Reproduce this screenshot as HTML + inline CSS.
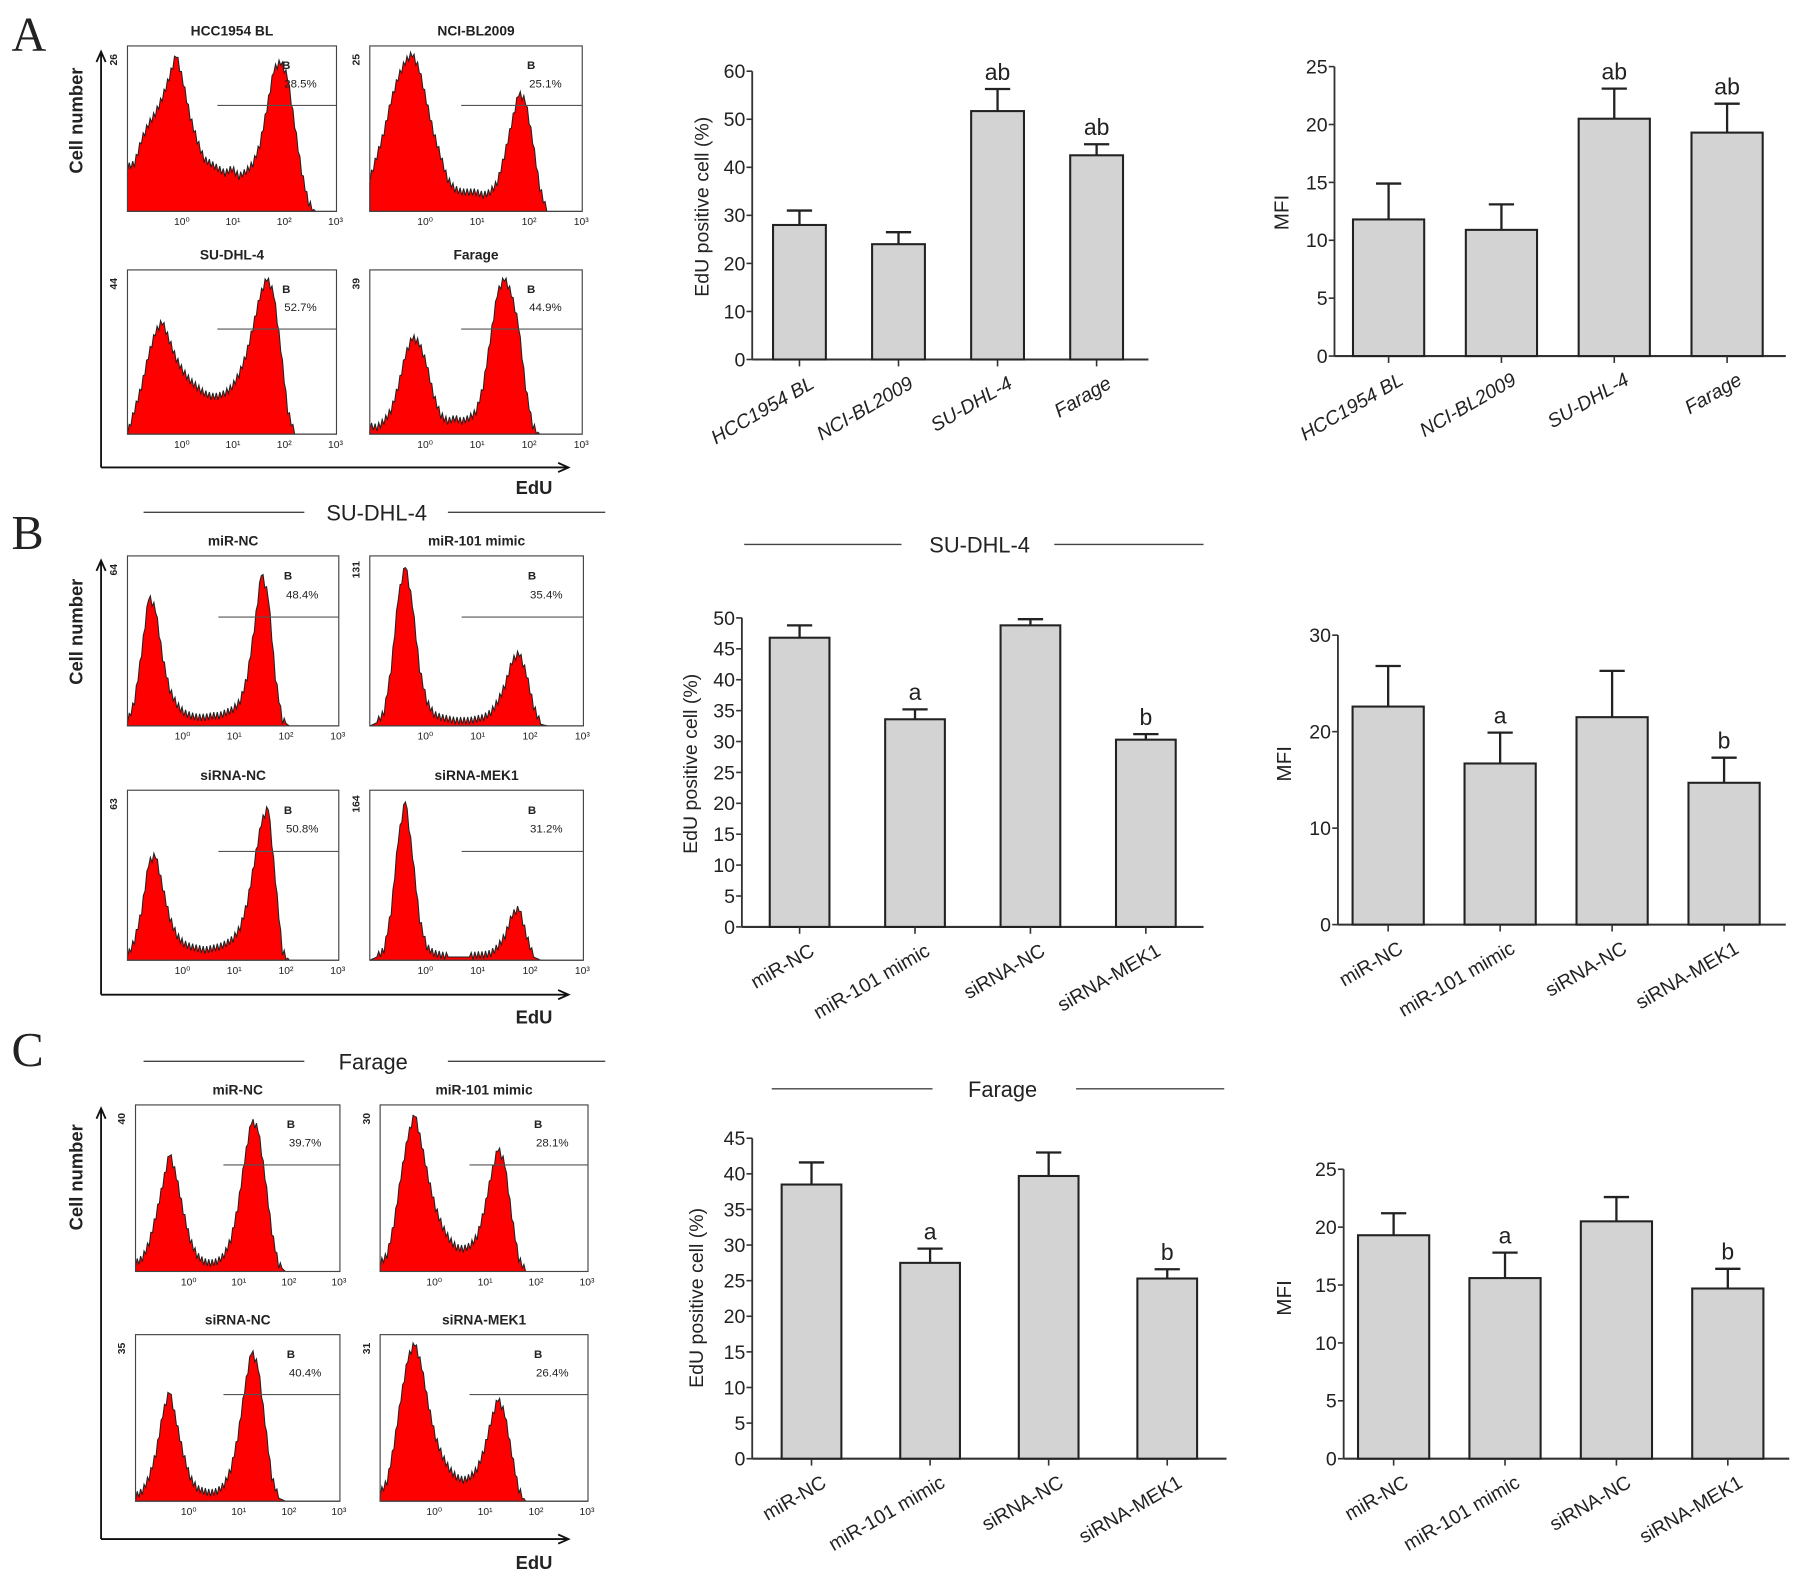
<!DOCTYPE html>
<html><head><meta charset="utf-8"><style>
html,body{margin:0;padding:0;background:#fff}
svg{display:block}
text{font-family:"Liberation Sans",Arial,sans-serif;fill:#222}
</style></head><body>
<svg id="fig" width="1795" height="1577" viewBox="0 0 1563 1373" preserveAspectRatio="none" xmlns="http://www.w3.org/2000/svg">
<rect width="1563" height="1373" fill="#fff"/>
<g id="root"></g>
</svg>
<script>
// ---------- bar chart data ----------
const catsA = ["HCC1954 BL","NCI-BL2009","SU-DHL-4","Farage"];
const catsBC = ["miR-NC","miR-101 mimic","siRNA-NC","siRNA-MEK1"];
const a1Values = [28, 24, 51.7, 42.5];
const a1Errors = [3, 2.5, 4.6, 2.3];
const a1Letters = ["", "", "ab", "ab"];
const a2Values = [11.8, 10.9, 20.5, 19.3];
const a2Errors = [3.1, 2.2, 2.6, 2.5];
const a2Letters = ["", "", "ab", "ab"];
const b1Values = [46.8, 33.6, 48.8, 30.3];
const b1Errors = [2.0, 1.6, 1.0, 0.9];
const b1Letters = ["", "a", "", "b"];
const b2Values = [22.6, 16.7, 21.5, 14.7];
const b2Errors = [4.2, 3.2, 4.8, 2.6];
const b2Letters = ["", "a", "", "b"];
const c1Values = [38.5, 27.5, 39.7, 25.3];
const c1Errors = [3.1, 2.0, 3.3, 1.3];
const c1Letters = ["", "a", "", "b"];
const c2Values = [19.3, 15.6, 20.5, 14.7];
const c2Errors = [1.9, 2.2, 2.1, 1.7];
const c2Letters = ["", "a", "", "b"];
const ticks60 = [0,10,20,30,40,50,60];
const ticks25 = [0,5,10,15,20,25];
const ticks50 = [0,5,10,15,20,25,30,35,40,45,50];
const ticks30 = [0,10,20,30];
const ticks45 = [0,5,10,15,20,25,30,35,40,45];

// ---------- histogram data (relative counts across EdU bins) ----------
const hHCC = [0.28,0.3,0.45,0.55,0.62,0.72,0.85,1.0,0.82,0.6,0.45,0.33,0.3,0.27,0.24,0.27,0.22,0.25,0.3,0.42,0.65,0.9,0.95,0.85,0.55,0.25,0.05,0,0,0];
const hNCI = [0.2,0.35,0.5,0.7,0.85,0.95,1.0,0.9,0.7,0.5,0.35,0.2,0.14,0.12,0.12,0.12,0.1,0.12,0.18,0.35,0.55,0.75,0.7,0.45,0.15,0,0,0,0,0];
const hSU = [0.0,0.15,0.3,0.5,0.65,0.72,0.6,0.48,0.4,0.34,0.3,0.26,0.24,0.24,0.26,0.3,0.38,0.5,0.68,0.88,1.0,0.9,0.55,0.15,0,0,0,0,0,0];
const hFar = [0.05,0.04,0.08,0.15,0.3,0.5,0.62,0.58,0.45,0.25,0.12,0.08,0.1,0.08,0.1,0.14,0.3,0.6,0.9,1.0,0.9,0.7,0.3,0.05,0,0,0,0,0,0];
const hBmiR = [0.02,0.15,0.45,0.8,0.72,0.42,0.22,0.13,0.08,0.06,0.05,0.05,0.06,0.06,0.08,0.1,0.15,0.3,0.6,0.95,0.8,0.3,0.03,0,0,0,0,0,0,0];
const hBmim = [0.0,0.02,0.08,0.35,0.8,1.0,0.75,0.35,0.15,0.07,0.05,0.04,0.03,0.03,0.03,0.04,0.05,0.08,0.15,0.25,0.4,0.45,0.32,0.12,0.01,0,0,0,0,0];
const hBsiNC = [0.02,0.12,0.3,0.6,0.65,0.45,0.26,0.15,0.1,0.08,0.07,0.06,0.07,0.08,0.1,0.13,0.2,0.35,0.6,0.85,0.95,0.5,0.05,0,0,0,0,0,0,0];
const hBsiM = [0.0,0.02,0.06,0.3,0.75,1.0,0.65,0.25,0.08,0.04,0.03,0.02,0.02,0.02,0.02,0.03,0.03,0.04,0.08,0.15,0.28,0.32,0.15,0.02,0,0,0,0,0,0];
const hCmiR = [0.05,0.08,0.18,0.35,0.55,0.75,0.6,0.38,0.2,0.1,0.06,0.05,0.06,0.1,0.2,0.4,0.7,0.95,0.9,0.6,0.25,0.04,0,0,0,0,0,0,0,0];
const hCmim = [0.05,0.1,0.3,0.6,0.85,1.0,0.8,0.58,0.4,0.28,0.2,0.15,0.14,0.16,0.22,0.38,0.6,0.78,0.68,0.35,0.08,0,0,0,0,0,0,0,0,0];
const hCsiNC = [0.03,0.06,0.15,0.3,0.55,0.7,0.5,0.3,0.15,0.08,0.06,0.05,0.06,0.1,0.2,0.4,0.7,0.95,0.85,0.5,0.15,0.02,0,0,0,0,0,0,0,0];
const hCsiM = [0.05,0.12,0.35,0.65,0.9,1.0,0.85,0.6,0.4,0.28,0.2,0.15,0.13,0.15,0.2,0.32,0.5,0.65,0.55,0.3,0.07,0,0,0,0,0,0,0,0,0];

const NS="http://www.w3.org/2000/svg";
const root=document.getElementById('root');
function el(tag,attrs,parent,txt){const e=document.createElementNS(NS,tag);for(const k in attrs)e.setAttribute(k,attrs[k]);if(txt!==undefined)e.textContent=txt;(parent||root).appendChild(e);return e;}

function barChart(o){
  const g=el('g',{});
  
  
  const yMax=o.ticks[o.ticks.length-1];
  const yS=v=>o.y0-(v/yMax)*(o.y0-o.yTop);
  const step=(o.xEnd-o.x0)/o.cats.length;
  const xS=i=>o.x0+step*(i+0.5)+o.shift;
  const ya=el('line',{x1:o.x0,y1:o.y0,x2:o.x0,y2:o.yTop,stroke:'#333','stroke-width':1.6},g);
  
  
  o.ticks.forEach(t=>{
    el('line',{x1:o.x0-5,x2:o.x0,y1:yS(t),y2:yS(t),stroke:'#333','stroke-width':1.4},g);
    const tl=el('text',{x:o.x0-6,y:yS(t)+6,'text-anchor':'end','font-size':17},g,String(t));
    
    
  });
  const xa=el('line',{x1:o.x0,y1:o.y0,x2:o.xEnd,y2:o.y0,stroke:'#333','stroke-width':1.8},g);
  
  
  o.values.forEach((v,i)=>{
    const cx=xS(i);
    const b=el('rect',{x:cx-o.bw/2,y:yS(v),width:o.bw,height:o.y0-yS(v),fill:'#d3d3d3',stroke:'#222','stroke-width':1.8},g);
    
    
    const top=yS(v+o.errors[i]);
    const eb=el('path',{d:`M${cx} ${yS(v)} V${top} M${cx-11} ${top} H${cx+11}`,stroke:'#222','stroke-width':2,fill:'none'},g);
    
    
    if(o.letters[i]){
      const lt=el('text',{x:cx,y:top-8,'text-anchor':'middle','font-size':20},g,o.letters[i]);
      
      
    }
    el('line',{x1:cx,x2:cx,y1:o.y0,y2:o.y0+6,stroke:'#333','stroke-width':1.4},g);
    const xl=el('text',{x:cx+14,y:o.y0+24,'text-anchor':'end','font-size':17,transform:`rotate(-30 ${cx+14} ${o.y0+24})`,'font-style':o.italic?'italic':'normal'},g,o.cats[i]);
    
    
  });
  const yl=el('text',{x:o.labX,y:o.labY,'text-anchor':'middle','font-size':o.lab==='MFI'?18:17,transform:`rotate(-90 ${o.labX} ${o.labY})`},g,o.lab);
  
  
}

function histo(o){
  const g=el('g',{});
  
  
  const w=o.x2-o.x1,h=o.y2-o.y1;
  const n=o.data.length, bw=w/n;
  let d=`M${o.x1} ${o.y2}`;
  o.data.forEach((v,i)=>{
    const x=o.x1+i*bw;
    for(let k=0;k<4;k++){
      const nv=i<n-1?o.data[i+1]:0;
      const vv=v+(nv-v)*(k/4);
      const jig=(vv>0.02)?((k%2)?0.025:-0.02):0;
      const yy=o.y2-Math.max(0,vv+jig)*h*0.95;
      d+=` L${x+k*bw/4} ${yy}`;
    }
  });
  d+=` L${o.x2} ${o.y2} Z`;
  const p=el('path',{d,fill:'#f00',stroke:'#222','stroke-width':0.9},g);
  
  
  el('rect',{x:o.x1,y:o.y1,width:w,height:h,fill:'none',stroke:'#444','stroke-width':1},g);
  const gl=el('line',{x1:o.x1+w*0.43,x2:o.x2,y1:o.y1+h*0.36,y2:o.y1+h*0.36,stroke:'#555','stroke-width':1},g);
  
  
  el('text',{x:o.x1+w*0.74,y:o.y1+h*0.14,'font-size':10,'font-weight':'bold'},g,'B');
  const pc=el('text',{x:o.x1+w*0.75,y:o.y1+h*0.25,'font-size':10},g,o.pct);
  
  
  const tt=el('text',{x:(o.x1+o.x2)/2,y:o.y1-9,'text-anchor':'middle','font-size':12,'font-weight':'bold'},g,o.title);
  
  
  el('text',{x:o.x1-9,y:o.y1+12,'font-size':9,'font-weight':'bold',transform:`rotate(-90 ${o.x1-9} ${o.y1+12})`,'text-anchor':'middle'},g,o.ymax);
  ['10⁰','10¹','10²','10³'].forEach((t,i)=>{
    el('text',{x:o.x1+w*(0.26+i*0.245),y:o.y2+12,'text-anchor':'middle','font-size':9},g,t);
  });
}

function panelAxes(x,yTop,yBot,xEnd,edY,cellY){
  const g=el('g',{});
  
  
  el('path',{d:`M${x} ${yBot} V${yTop} M${x-4} ${yTop+9} L${x} ${yTop} L${x+4} ${yTop+9} M${x} ${yBot} H${xEnd} M${xEnd-9} ${yBot-4} L${xEnd} ${yBot} L${xEnd-9} ${yBot+4}`,stroke:'#111','stroke-width':1.6,fill:'none'},g);
  el('text',{x:72,y:cellY,'font-size':16,'font-weight':'bold','text-anchor':'middle',transform:`rotate(-90 72 ${cellY})`},g,'Cell number');
  el('text',{x:xEnd-30,y:edY,'font-size':16,'font-weight':'bold','text-anchor':'middle'},g,'EdU');
}
function header(x1,x2,x3,x4,y,txt,tx){
  const g=el('g',{});
  
  
  el('line',{x1,x2,y1:y,y2:y,stroke:'#444','stroke-width':1.2},g);
  el('line',{x1:x3,x2:x4,y1:y,y2:y,stroke:'#444','stroke-width':1.2},g);
  el('text',{x:tx,y:y+7,'text-anchor':'middle','font-size':19},g,txt);
}
function panelLetter(t,x,y){
  const l=el('text',{x,y,'font-size':42,style:'font-family:"Liberation Serif",serif'},root,t);
  
  
}

// Panel A
panelLetter('A',10,44);
panelAxes(88,45,407,495,430,105);
histo({x1:111,x2:293,y1:40,y2:184,data:hHCC,title:'HCC1954 BL',pct:'28.5%',ymax:'26'});
histo({x1:322,x2:507,y1:40,y2:184,data:hNCI,title:'NCI-BL2009',pct:'25.1%',ymax:'25'});
histo({x1:111,x2:293,y1:235,y2:378,data:hSU,title:'SU-DHL-4',pct:'52.7%',ymax:'44'});
histo({x1:322,x2:507,y1:235,y2:378,data:hFar,title:'Farage',pct:'44.9%',ymax:'39'});
barChart({name:'chart-a-edu',cats:catsA,values:a1Values,errors:a1Errors,letters:a1Letters,ticks:ticks60,x0:655,xEnd:1000,y0:313,yTop:62,bw:46,shift:-2,lab:'EdU positive cell (%)',labX:617,labY:180,italic:true});
barChart({name:'chart-a-mfi',cats:catsA,values:a2Values,errors:a2Errors,letters:a2Letters,ticks:ticks25,x0:1162,xEnd:1555,y0:310,yTop:58,bw:62,shift:-2,lab:'MFI',labX:1122,labY:185,italic:true});

// Panel B
panelLetter('B',10,478);
header(125,265,390,527,446,'SU-DHL-4',328);
panelAxes(88,488,866,495,891,550);
histo({x1:111,x2:295,y1:484,y2:632,data:hBmiR,title:'miR-NC',pct:'48.4%',ymax:'64'});
histo({x1:322,x2:508,y1:484,y2:632,data:hBmim,title:'miR-101 mimic',pct:'35.4%',ymax:'131'});
histo({x1:111,x2:295,y1:688,y2:836,data:hBsiNC,title:'siRNA-NC',pct:'50.8%',ymax:'63'});
histo({x1:322,x2:508,y1:688,y2:836,data:hBsiM,title:'siRNA-MEK1',pct:'31.2%',ymax:'164'});
header(648,785,918,1048,474,'SU-DHL-4',853);
barChart({name:'chart-b-edu',cats:catsBC,values:b1Values,errors:b1Errors,letters:b1Letters,ticks:ticks50,x0:646,xEnd:1048,y0:807,yTop:538,bw:52,shift:0,lab:'EdU positive cell (%)',labX:607,labY:665});
barChart({name:'chart-b-mfi',cats:catsBC,values:b2Values,errors:b2Errors,letters:b2Letters,ticks:ticks30,x0:1165,xEnd:1555,y0:805,yTop:553,bw:62,shift:-5,lab:'MFI',labX:1124,labY:665});

// Panel C
panelLetter('C',10,928);
header(125,265,390,527,924,'Farage',325);
panelAxes(88,965,1340,495,1366,1025);
histo({x1:118,x2:296,y1:962,y2:1107,data:hCmiR,title:'miR-NC',pct:'39.7%',ymax:'40'});
histo({x1:331,x2:512,y1:962,y2:1107,data:hCmim,title:'miR-101 mimic',pct:'28.1%',ymax:'30'});
histo({x1:118,x2:296,y1:1162,y2:1307,data:hCsiNC,title:'siRNA-NC',pct:'40.4%',ymax:'35'});
histo({x1:331,x2:512,y1:1162,y2:1307,data:hCsiM,title:'siRNA-MEK1',pct:'26.4%',ymax:'31'});
header(672,812,937,1066,948,'Farage',873);
barChart({name:'chart-c-edu',cats:catsBC,values:c1Values,errors:c1Errors,letters:c1Letters,ticks:ticks45,x0:655,xEnd:1068,y0:1270,yTop:991,bw:52,shift:0,lab:'EdU positive cell (%)',labX:612,labY:1130});
barChart({name:'chart-c-mfi',cats:catsBC,values:c2Values,errors:c2Errors,letters:c2Letters,ticks:ticks25,x0:1170,xEnd:1558,y0:1270,yTop:1018,bw:62,shift:-5,lab:'MFI',labX:1124,labY:1130});
</script>
</body></html>
